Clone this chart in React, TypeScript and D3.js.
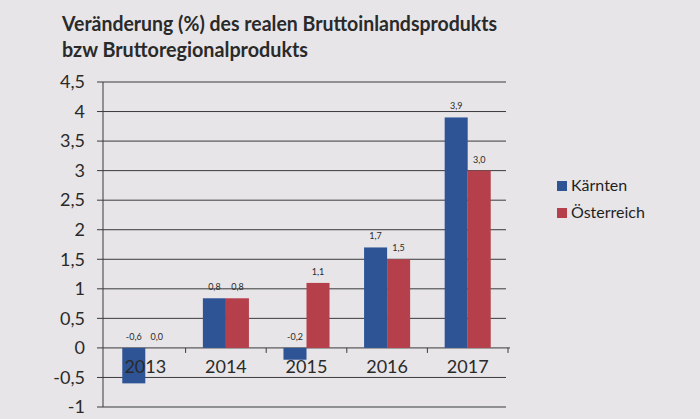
import React from "react";
import * as d3 from "d3";

const years = ["2013", "2014", "2015", "2016", "2017"];
const seriesNames = ["Kärnten", "Österreich"];
const kaernten = [-0.6, 0.84, -0.2, 1.7, 3.9];
const oesterreich = [0.0, 0.84, 1.1, 1.5, 3.0];
const yTicks = [-1, -0.5, 0, 0.5, 1, 1.5, 2, 2.5, 3, 3.5, 4, 4.5];
const titleLines = [
  "Veränderung (%) des realen Bruttoinlandsprodukts",
  "bzw Bruttoregionalprodukts",
];
const colors = ["#2f5496", "#b5404b"];

const W = 700;
const H = 419;

export default function App() {
  const x0 = d3.scaleBand<string>().domain(years).range([105, 508]).padding(0);
  const x1 = d3
    .scaleBand<string>()
    .domain(seriesNames)
    .range([0, x0.bandwidth()])
    .paddingInner(0)
    .paddingOuter(0.75);
  const y = d3.scaleLinear().domain([-1, 4.5]).range([407, 82]);
  const values = [kaernten, oesterreich];
  const fmt = (v: number) => d3.format(".1f")(v).replace(".", ",").replace("−", "-");
  const tickFmt = (v: number) =>
    (Number.isInteger(v) ? String(v) : d3.format(".1f")(v)).replace(".", ",").replace("−", "-");
  const font = "Lato, 'Open Sans', sans-serif";
  const axisX = 103;
  const right = 506;

  return (
    <svg
      width={W}
      height={H}
      style={{ position: "absolute", left: 0, top: 0, background: "#e7e5e8" }}
      fontFamily={font}
    >
      <rect x={0} y={0} width={W} height={H} fill="#e7e5e8" />
      {titleLines.map((t, i) => (
        <text
          key={i}
          x={62}
          y={31 + i * 26}
          fontSize={20}
          fontWeight="bold"
          fill="#2a2a2a"
          textLength={i === 0 ? 435 : 246}
          lengthAdjust="spacingAndGlyphs"
        >
          {t}
        </text>
      ))}
      {/* gridlines */}
      {yTicks.map((t) => (
        <g key={t}>
          <line
            x1={axisX - 6}
            x2={t === 0 ? 510 : right}
            y1={y(t)}
            y2={y(t)}
            stroke="#3a3a3a"
            strokeWidth={1}
          />
          <text
            x={85}
            y={y(t)}
            dy="0.35em"
            textAnchor="end"
            fontSize={18}
            fill="#2a2a2a"
          >
            {tickFmt(t)}
          </text>
        </g>
      ))}
      {/* y axis */}
      <line x1={axisX} x2={axisX} y1={y(4.5)} y2={y(-1)} stroke="#3a3a3a" strokeWidth={1} />
      {/* bars */}
      {years.map((yr, i) => (
        <g key={yr}>
          {seriesNames.map((s, j) => {
            const v = values[j][i];
            const bx = (x0(yr) ?? 0) + (x1(s) ?? 0);
            const top = y(Math.max(0, v));
            const h = Math.abs(y(v) - y(0));
            const labelY = v >= 0 ? y(v) - 8 : y(0) - 8;
            return (
              <g key={s}>
                {h > 0 && (
                  <rect x={bx} y={top} width={x1.bandwidth()} height={h} fill={colors[j]} />
                )}
                <text
                  x={bx + x1.bandwidth() / 2}
                  y={labelY}
                  textAnchor="middle"
                  fontSize={9}
                  fill="#2a2a2a"
                >
                  {fmt(v)}
                </text>
              </g>
            );
          })}
        </g>
      ))}
      {/* x-axis category ticks */}
      {years.map((yr) => (
        <line
          key={"t" + yr}
          x1={(x0(yr) ?? 0) + x0.bandwidth()}
          x2={(x0(yr) ?? 0) + x0.bandwidth()}
          y1={y(0)}
          y2={y(0) + 5}
          stroke="#3a3a3a"
          strokeWidth={1}
        />
      ))}
      {years.map((yr) => (
        <text
          key={"l" + yr}
          x={(x0(yr) ?? 0) + x0.bandwidth() / 2}
          y={y(0) + 25}
          textAnchor="middle"
          fontSize={18}
          fill="#2a2a2a"
        >
          {yr}
        </text>
      ))}
      {/* legend */}
      {seriesNames.map((s, j) => (
        <g key={s} transform={`translate(557, ${181 + j * 27})`}>
          <rect x={0} y={0} width={10} height={10} fill={colors[j]} />
          <text x={14} y={10} fontSize={16} fill="#1f1f1f">
            {s}
          </text>
        </g>
      ))}
    </svg>
  );
}
